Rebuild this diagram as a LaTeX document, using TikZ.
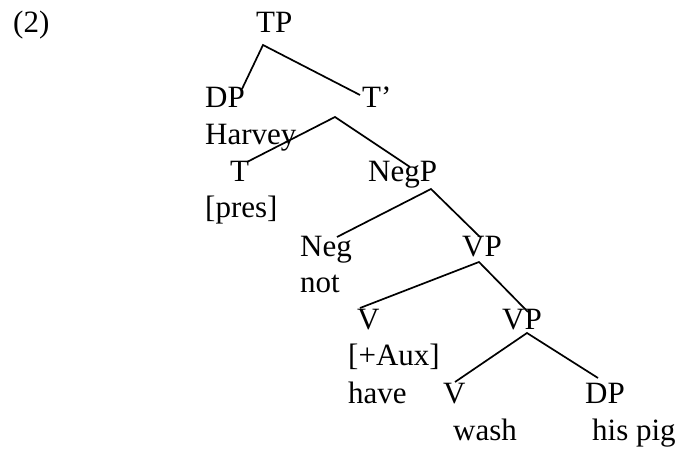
\documentclass[tikz,border=0pt]{standalone}
\usepackage{fontspec}
\setmainfont{Liberation Serif}
\begin{document}
\begin{tikzpicture}[x=1pt,y=-1pt,
  lbl/.style={anchor=base west,inner sep=0pt,font=\fontsize{31}{37}\selectfont},
  branch/.style={draw=black,line width=1.7pt,line join=miter}]
\useasboundingbox (0,0) rectangle (678,449);
% labels
\node[lbl] (ex) at (13,33) {(2)};
\node[lbl] (TP) at (256,33) {TP};
\node[lbl] (DP1) at (205,108) {DP};
\node[lbl] (Tbar) at (362,108) {T’};
\node[lbl] (harvey) at (205,145) {Harvey};
\node[lbl] (T) at (230,182) {T};
\node[lbl] (NegP) at (368,182) {NegP};
\node[lbl] (pres) at (205,218) {[pres]};
\node[lbl] (Neg) at (300,257) {Neg};
\node[lbl] (not) at (300,293) {not};
\node[lbl] (VP1) at (462,257) {VP};
\node[lbl] (V1) at (357,330) {V};
\node[lbl] (VP2) at (502,330) {VP};
\node[lbl] (aux) at (348,366) {[+Aux]};
\node[lbl] (have) at (348,403) {have};
\node[lbl] (V2) at (443,403) {V};
\node[lbl] (DP2) at (585,403) {DP};
\node[lbl] (wash) at (453,440) {wash};
\node[lbl] (pig) at (592,440) {his pig};
% branch points
\coordinate (aTP) at (263,45);
\coordinate (eDP1) at (242,89);
\coordinate (eTbar) at (360,95);
\coordinate (aTbar) at (335,117);
\coordinate (eT) at (247,162);
\coordinate (eNegP) at (410,167);
\coordinate (aNegP) at (431,189);
\coordinate (eNeg) at (337,237);
\coordinate (eVP1) at (480,237);
\coordinate (aVP1) at (479,262);
\coordinate (eV1) at (360,308);
\coordinate (eVP2) at (528,312);
\coordinate (aVP2) at (527,333);
\coordinate (eV2) at (455,382);
\coordinate (eDP2) at (598,378);
% connectors
\draw[branch] (eDP1) -- (aTP) -- (eTbar);
\draw[branch] (eT) -- (aTbar) -- (eNegP);
\draw[branch] (eNeg) -- (aNegP) -- (eVP1);
\draw[branch] (eV1) -- (aVP1) -- (eVP2);
\draw[branch] (eV2) -- (aVP2) -- (eDP2);
\end{tikzpicture}
\end{document}
